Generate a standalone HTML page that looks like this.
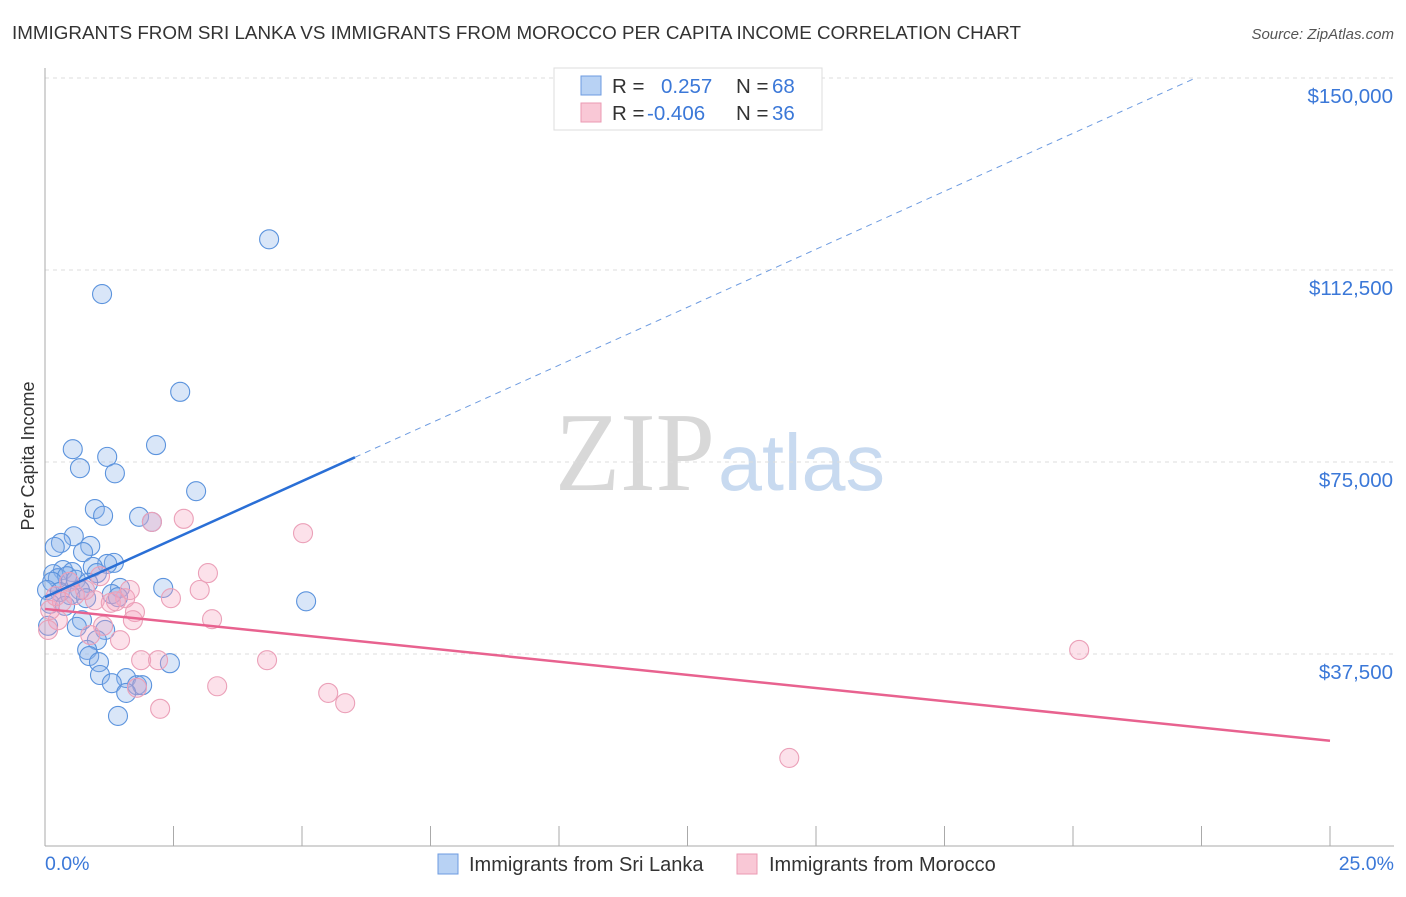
<!DOCTYPE html>
<html><head><meta charset="utf-8"><style>
body{margin:0;background:#fff;font-family:"Liberation Sans",sans-serif;}
</style></head><body>
<svg width="1406" height="892" xmlns="http://www.w3.org/2000/svg">
<text x="12" y="39" font-size="18" fill="#333" textLength="1009" lengthAdjust="spacingAndGlyphs">IMMIGRANTS FROM SRI LANKA VS IMMIGRANTS FROM MOROCCO PER CAPITA INCOME CORRELATION CHART</text>
<text x="1394" y="39" font-size="15" fill="#555" font-style="italic" text-anchor="end">Source: ZipAtlas.com</text>
<text x="715" y="490" font-size="112" fill="#d8d8d8" font-family="Liberation Serif,serif" text-anchor="end" textLength="160" lengthAdjust="spacingAndGlyphs">ZIP</text>
<text x="718" y="490" font-size="80" fill="#c8daf0" textLength="167" lengthAdjust="spacingAndGlyphs">atlas</text>
<g id="grid"></g><g id="axes"></g><g id="pts"></g><g id="lines"></g>
<text transform="translate(34,456) rotate(-90)" font-size="18" fill="#333" text-anchor="middle">Per Capita Income</text>
<text x="45" y="870" font-size="19.5" fill="#3b78d8">0.0%</text>
<text x="1394" y="870" font-size="19.5" fill="#3b78d8" text-anchor="end">25.0%</text>
<g>
<rect x="554" y="68" width="268" height="62" fill="#fff" stroke="#ddd"/>
<rect x="581" y="76" width="20" height="19" fill="#b8d2f4" stroke="#6d9be0"/>
<rect x="581" y="103" width="20" height="19" fill="#f9c8d6" stroke="#eb9ab3"/>
<text x="612" y="93" font-size="20.5" fill="#333">R =</text><text x="661" y="93" font-size="20.5" fill="#3b78d8">0.257</text>
<text x="736" y="93" font-size="20.5" fill="#333">N =</text><text x="772" y="93" font-size="20.5" fill="#3b78d8">68</text>
<text x="612" y="120" font-size="20.5" fill="#333">R =</text><text x="647" y="120" font-size="20.5" fill="#3b78d8">-0.406</text>
<text x="736" y="120" font-size="20.5" fill="#333">N =</text><text x="772" y="120" font-size="20.5" fill="#3b78d8">36</text>
</g>
<g>
<rect x="438" y="854" width="20" height="20" fill="#b8d2f4" stroke="#6d9be0"/>
<text x="469" y="871" font-size="20" fill="#333">Immigrants from Sri Lanka</text>
<rect x="737" y="854" width="20" height="20" fill="#f9c8d6" stroke="#eb9ab3"/>
<text x="769" y="871" font-size="20" fill="#333">Immigrants from Morocco</text>
</g>
</svg>
<script>
const yTicks=[37500,75000,112500,150000];
const yTickLabels=["$37,500","$75,000","$112,500","$150,000"];
const xTicks=[0,2.5,5,7.5,10,12.5,15,17.5,20,22.5,25];
const blueX=[4.36,1.11,2.63,2.16,0.54,1.21,0.68,1.36,2.94,0.97,1.13,1.83,2.08,0.56,0.31,0.19,0.88,0.74,1.34,1.21,0.93,0.35,0.53,0.16,0.25,0.43,1.01,0.14,0.60,0.84,1.46,2.30,0.04,0.29,0.68,0.49,1.30,0.80,1.42,5.08,0.10,0.39,0.06,0.72,0.62,1.17,1.01,0.82,0.86,1.05,2.43,1.07,1.58,1.30,1.79,1.89,1.58,1.42];
const blueY=[118.5,107.8,88.7,78.3,77.5,76.0,73.8,72.8,69.3,65.8,64.5,64.3,63.3,60.5,59.2,58.4,58.6,57.4,55.3,55.1,54.5,53.9,53.5,53.1,52.3,52.7,53.3,51.6,52.0,51.4,50.4,50.4,50.0,49.6,50.0,49.0,49.2,48.4,48.6,47.8,47.3,46.9,43.0,44.1,42.8,42.2,40.2,38.3,37.1,35.9,35.7,33.4,32.8,31.8,31.4,31.4,29.9,25.4];
const pinkX=[2.70,5.02,3.17,3.01,1.07,1.56,2.45,1.75,3.25,1.71,1.46,1.13,0.88,0.25,0.10,0.33,0.97,0.58,1.28,1.87,2.20,4.32,3.35,5.51,5.84,2.24,1.79,20.12,14.48,2.08,1.38,0.06,0.78,0.47,0.21,1.65];
const pinkY=[63.9,61.1,53.3,50.0,52.7,48.4,48.4,45.7,44.3,44.1,40.2,43.0,41.2,44.1,46.1,47.7,48.0,49.0,47.5,36.3,36.3,36.3,31.2,29.9,27.9,26.8,30.9,38.3,17.2,63.3,47.8,42.2,50.0,51.6,48.8,50.0];
const blueTrend=[48.6,4.53]; // intercept (k$), slope per %
const pinkTrend=[46.3,-1.03];
const X=v=>45+v/25*1285, Y=v=>846-v/150000*768;
const NS="http://www.w3.org/2000/svg";
function mk(tag,attrs,parent){const e=document.createElementNS(NS,tag);for(const k in attrs)e.setAttribute(k,attrs[k]);document.getElementById(parent).appendChild(e);return e;}
yTicks.forEach((t,i)=>{
 const g=mk('line',{x1:45,x2:1394,y1:Y(t),y2:Y(t),stroke:'#ddd','stroke-dasharray':'4,4'},'grid');
 
 
 const l=mk('text',{x:1393,y:Y(t)+25,'font-size':20.5,fill:'#3b78d8','text-anchor':'end'},'grid');
 l.textContent=yTickLabels[i];
 
 
});
const ya=mk('line',{x1:45,x2:45,y1:68,y2:846,stroke:'#aaa'},'axes');


const xa=mk('line',{x1:45,x2:1394,y1:846,y2:846,stroke:'#aaa'},'axes');


xTicks.forEach(t=>{const e=mk('line',{x1:X(t),x2:X(t),y1:826,y2:846,stroke:'#aaa'},'axes');
 
 });
blueX.forEach((x,i)=>{const c=mk('circle',{cx:X(x),cy:Y(blueY[i]*1000),r:9.5,fill:'rgba(140,180,235,0.33)',stroke:'#5b93dd','stroke-width':1.1},'pts');
 
 });
pinkX.forEach((x,i)=>{const c=mk('circle',{cx:X(x),cy:Y(pinkY[i]*1000),r:9.5,fill:'rgba(245,165,190,0.33)',stroke:'#eba0b8','stroke-width':1.1},'pts');
 
 });
const bl=x=>(blueTrend[0]+blueTrend[1]*x)*1000, pl=x=>(pinkTrend[0]+pinkTrend[1]*x)*1000;
const t1=mk('line',{x1:X(0),y1:Y(bl(0)),x2:X(6.03),y2:Y(bl(6.03)),stroke:'#2a6fd6','stroke-width':2.5},'lines');


const xe=(150000/1000-blueTrend[0])/blueTrend[1];
const t2=mk('line',{x1:X(6.03),y1:Y(bl(6.03)),x2:X(xe),y2:Y(bl(xe)),stroke:'#6d9be0','stroke-width':1,'stroke-dasharray':'6,5'},'lines');


const t3=mk('line',{x1:X(0),y1:Y(pl(0)),x2:X(25),y2:Y(pl(25)),stroke:'#e8628f','stroke-width':2.5},'lines');


</script>
</body></html>
